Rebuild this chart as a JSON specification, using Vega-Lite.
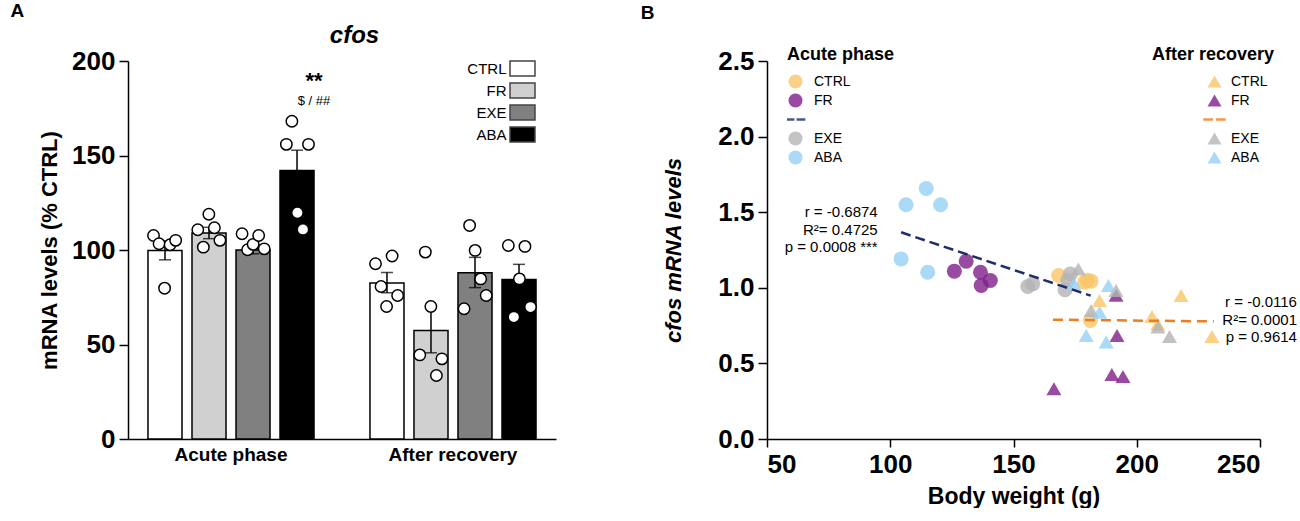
{
  "$schema": "https://vega.github.io/schema/vega-lite/v6.json",
  "background": "white",
  "padding": {"left": 10, "top": 2, "right": 0, "bottom": 0},
  "bounds": "flush",
  "spacing": 211,
  "config": {
    "font": "Liberation Sans",
    "view": {"stroke": null},
    "axis": {"domainColor": "black", "domainWidth": 1.5, "tickColor": "black", "tickWidth": 1.5, "labelColor": "black", "titleColor": "black", "grid": false, "labelFont": "Liberation Sans", "titleFont": "Liberation Sans"},
    "legend": {"labelFont": "Liberation Sans", "titleFont": "Liberation Sans", "labelColor": "black", "titleColor": "black"},
    "title": {"font": "Liberation Sans", "color": "black"}
  },
  "datasets": {
    "bars": [
      {"phase": "Acute phase", "group": "CTRL", "mean": 99.8, "lo": 94.8, "hi": 104.8},
      {"phase": "Acute phase", "group": "FR", "mean": 109, "lo": 106, "hi": 112},
      {"phase": "Acute phase", "group": "EXE", "mean": 100, "lo": 98, "hi": 102},
      {"phase": "Acute phase", "group": "ABA", "mean": 142, "lo": 131.2, "hi": 152.8},
      {"phase": "After recovery", "group": "CTRL", "mean": 82.6, "lo": 77.4, "hi": 88.1},
      {"phase": "After recovery", "group": "FR", "mean": 57.4, "lo": 45.6, "hi": 70.1},
      {"phase": "After recovery", "group": "EXE", "mean": 87.9, "lo": 80.1, "hi": 96.1},
      {"phase": "After recovery", "group": "ABA", "mean": 84.4, "lo": 76.4, "hi": 92.4}
    ],
    "pts": [
      {"phase": "Acute phase", "group": "CTRL", "gr": "CTRL-1", "value": 107.7},
      {"phase": "Acute phase", "group": "CTRL", "gr": "CTRL-2", "value": 103.3},
      {"phase": "Acute phase", "group": "CTRL", "gr": "CTRL-3", "value": 79.8},
      {"phase": "Acute phase", "group": "CTRL", "gr": "CTRL-4", "value": 102.8},
      {"phase": "Acute phase", "group": "CTRL", "gr": "CTRL-5", "value": 105.1},
      {"phase": "Acute phase", "group": "FR", "gr": "FR-1", "value": 110.7},
      {"phase": "Acute phase", "group": "FR", "gr": "FR-2", "value": 101.5},
      {"phase": "Acute phase", "group": "FR", "gr": "FR-3", "value": 118.9},
      {"phase": "Acute phase", "group": "FR", "gr": "FR-4", "value": 111.8},
      {"phase": "Acute phase", "group": "FR", "gr": "FR-5", "value": 105.1},
      {"phase": "Acute phase", "group": "EXE", "gr": "EXE-1", "value": 108.6},
      {"phase": "Acute phase", "group": "EXE", "gr": "EXE-2", "value": 100.1},
      {"phase": "Acute phase", "group": "EXE", "gr": "EXE-3", "value": 103.0},
      {"phase": "Acute phase", "group": "EXE", "gr": "EXE-4", "value": 107.7},
      {"phase": "Acute phase", "group": "EXE", "gr": "EXE-5", "value": 100.6},
      {"phase": "Acute phase", "group": "ABA", "gr": "ABA-1", "value": 155.9},
      {"phase": "Acute phase", "group": "ABA", "gr": "ABA-2", "value": 168.1},
      {"phase": "Acute phase", "group": "ABA", "gr": "ABA-3", "value": 119.7},
      {"phase": "Acute phase", "group": "ABA", "gr": "ABA-4", "value": 110.9},
      {"phase": "Acute phase", "group": "ABA", "gr": "ABA-5", "value": 155.9},
      {"phase": "After recovery", "group": "CTRL", "gr": "CTRL-1", "value": 92.7},
      {"phase": "After recovery", "group": "CTRL", "gr": "CTRL-2", "value": 80.7},
      {"phase": "After recovery", "group": "CTRL", "gr": "CTRL-3", "value": 70.1},
      {"phase": "After recovery", "group": "CTRL", "gr": "CTRL-4", "value": 96.8},
      {"phase": "After recovery", "group": "CTRL", "gr": "CTRL-5", "value": 75.9},
      {"phase": "After recovery", "group": "FR", "gr": "FR-1", "value": 44.5},
      {"phase": "After recovery", "group": "FR", "gr": "FR-2", "value": 98.9},
      {"phase": "After recovery", "group": "FR", "gr": "FR-3", "value": 70.1},
      {"phase": "After recovery", "group": "FR", "gr": "FR-4", "value": 33.6},
      {"phase": "After recovery", "group": "FR", "gr": "FR-5", "value": 42.4},
      {"phase": "After recovery", "group": "EXE", "gr": "EXE-1", "value": 68.9},
      {"phase": "After recovery", "group": "EXE", "gr": "EXE-2", "value": 113.0},
      {"phase": "After recovery", "group": "EXE", "gr": "EXE-3", "value": 99.8},
      {"phase": "After recovery", "group": "EXE", "gr": "EXE-4", "value": 84.7},
      {"phase": "After recovery", "group": "EXE", "gr": "EXE-5", "value": 75.9},
      {"phase": "After recovery", "group": "ABA", "gr": "ABA-1", "value": 102.4},
      {"phase": "After recovery", "group": "ABA", "gr": "ABA-2", "value": 64.5},
      {"phase": "After recovery", "group": "ABA", "gr": "ABA-3", "value": 84.7},
      {"phase": "After recovery", "group": "ABA", "gr": "ABA-4", "value": 101.9},
      {"phase": "After recovery", "group": "ABA", "gr": "ABA-5", "value": 69.8}
    ],
    "sig": [
      {"phase": "Acute phase", "group": "ABA", "ty": 189.5, "label": "**"},
      {"phase": "Acute phase", "group": "ABA", "ty": 179.0, "label": "$ / ##"}
    ],
    "scat": [
      {"phase": "Acute", "group": "CTRL", "bw": 168.3, "lvl": 1.081},
      {"phase": "Acute", "group": "CTRL", "bw": 180.0, "lvl": 1.05},
      {"phase": "Acute", "group": "CTRL", "bw": 178.8, "lvl": 1.037},
      {"phase": "Acute", "group": "CTRL", "bw": 181.5, "lvl": 1.044},
      {"phase": "Acute", "group": "CTRL", "bw": 181.2, "lvl": 0.784},
      {"phase": "Acute", "group": "FR", "bw": 126.0, "lvl": 1.110},
      {"phase": "Acute", "group": "FR", "bw": 130.8, "lvl": 1.176},
      {"phase": "Acute", "group": "FR", "bw": 136.6, "lvl": 1.103},
      {"phase": "Acute", "group": "FR", "bw": 136.9, "lvl": 1.015},
      {"phase": "Acute", "group": "FR", "bw": 140.6, "lvl": 1.048},
      {"phase": "Acute", "group": "EXE", "bw": 155.8, "lvl": 1.009},
      {"phase": "Acute", "group": "EXE", "bw": 157.8, "lvl": 1.026},
      {"phase": "Acute", "group": "EXE", "bw": 170.9, "lvl": 0.987},
      {"phase": "Acute", "group": "EXE", "bw": 173.1, "lvl": 1.092},
      {"phase": "Acute", "group": "EXE", "bw": 172.0, "lvl": 1.05},
      {"phase": "Acute", "group": "ABA", "bw": 114.6, "lvl": 1.657},
      {"phase": "Acute", "group": "ABA", "bw": 106.4, "lvl": 1.549},
      {"phase": "Acute", "group": "ABA", "bw": 120.4, "lvl": 1.549},
      {"phase": "Acute", "group": "ABA", "bw": 104.4, "lvl": 1.191},
      {"phase": "Acute", "group": "ABA", "bw": 115.2, "lvl": 1.103},
      {"phase": "After", "group": "CTRL", "bw": 184.9, "lvl": 0.916},
      {"phase": "After", "group": "CTRL", "bw": 218.0, "lvl": 0.949},
      {"phase": "After", "group": "CTRL", "bw": 206.2, "lvl": 0.810},
      {"phase": "After", "group": "CTRL", "bw": 230.5, "lvl": 0.678},
      {"phase": "After", "group": "CTRL", "bw": 208.5, "lvl": 0.76},
      {"phase": "After", "group": "FR", "bw": 191.6, "lvl": 0.95},
      {"phase": "After", "group": "FR", "bw": 192.0, "lvl": 0.685},
      {"phase": "After", "group": "FR", "bw": 189.9, "lvl": 0.427},
      {"phase": "After", "group": "FR", "bw": 194.4, "lvl": 0.414},
      {"phase": "After", "group": "FR", "bw": 166.4, "lvl": 0.333},
      {"phase": "After", "group": "EXE", "bw": 176.3, "lvl": 1.125},
      {"phase": "After", "group": "EXE", "bw": 191.6, "lvl": 0.982},
      {"phase": "After", "group": "EXE", "bw": 181.5, "lvl": 0.85},
      {"phase": "After", "group": "EXE", "bw": 208.6, "lvl": 0.740},
      {"phase": "After", "group": "EXE", "bw": 213.3, "lvl": 0.678},
      {"phase": "After", "group": "ABA", "bw": 174.5, "lvl": 1.026},
      {"phase": "After", "group": "ABA", "bw": 188.5, "lvl": 1.015},
      {"phase": "After", "group": "ABA", "bw": 184.9, "lvl": 0.839},
      {"phase": "After", "group": "ABA", "bw": 179.5, "lvl": 0.685},
      {"phase": "After", "group": "ABA", "bw": 187.6, "lvl": 0.641}
    ],
    "fits": [
      {"phase": "Acute", "bw": 104.4, "fit": 1.367},
      {"phase": "Acute", "bw": 181.3, "fit": 0.948},
      {"phase": "After", "bw": 166.0, "fit": 0.789},
      {"phase": "After", "bw": 231.3, "fit": 0.778}
    ],
    "ann": [
      {"bw": 94.9, "lvl": 1.503, "label": "r = -0.6874"},
      {"bw": 94.9, "lvl": 1.382, "label": "R²= 0.4725"},
      {"bw": 94.9, "lvl": 1.267, "label": "p = 0.0008 ***"},
      {"bw": 265.0, "lvl": 0.904, "label": "r = -0.0116"},
      {"bw": 265.0, "lvl": 0.788, "label": "R²= 0.0001"},
      {"bw": 265.0, "lvl": 0.673, "label": "p = 0.9614"}
    ]
  },
  "hconcat": [
    {
      "width": 428,
      "height": 378,
      "title": {"text": "A", "anchor": "start", "frame": "bounds", "dx": -28, "fontSize": 19, "fontWeight": "bold", "offset": 2},
      "resolve": {"scale": {"xOffset": "independent"}, "axis": {"x": "independent"}},
      "layer": [
        {
          "data": {"name": "bars"},
          "mark": {"type": "bar", "stroke": "black", "strokeWidth": 1.5},
          "encoding": {
            "x": {"field": "phase", "type": "nominal", "sort": ["Acute phase", "After recovery"],
              "scale": {"domain": ["Acute phase", "After recovery"], "paddingInner": 0.252, "paddingOuter": 0.09},
              "axis": {"title": null, "labelAngle": 0, "labelFontSize": 19, "labelFontWeight": "bold", "ticks": false, "labelPadding": 6}},
            "xOffset": {"field": "group", "type": "nominal", "scale": {"domain": ["CTRL", "FR", "EXE", "ABA"], "paddingInner": 0.227, "paddingOuter": 0}},
            "y": {"field": "mean", "type": "quantitative", "title": "mRNA levels (% CTRL)", "scale": {"domain": [0, 200], "nice": false},
              "axis": {"values": [0, 50, 100, 150, 200], "titleFontSize": 22, "titleFontWeight": "bold", "labelFontSize": 26, "labelFontWeight": "bold", "tickSize": 9, "labelPadding": 4, "titlePadding": 10}},
            "fill": {"field": "group", "type": "nominal", "scale": {"domain": ["CTRL", "FR", "EXE", "ABA"], "range": ["white", "#d0d0d0", "#808080", "black"]},
              "legend": {"orient": "none", "legendX": 386.5, "legendY": -0.5, "title": null, "symbolType": "M-1.724,-1.034H1.724V1.034H-1.724Z", "symbolSize": 210, "symbolStrokeColor": "#444", "symbolStrokeWidth": 1.5, "labelFontSize": 15, "labelAlign": "right", "labelOffset": -24, "rowPadding": 0, "padding": 0}}
          }
        },
        {
          "data": {"name": "bars"},
          "mark": {"type": "rule", "color": "black", "strokeWidth": 1.5},
          "encoding": {
            "x": {"field": "phase", "type": "nominal", "axis": null},
            "xOffset": {"field": "group", "type": "nominal", "scale": {"domain": ["CTRL", "FR", "EXE", "ABA"], "paddingInner": 0.227, "paddingOuter": 0}},
            "y": {"field": "lo", "type": "quantitative", "title": "mRNA levels (% CTRL)", "scale": {"domain": [0, 200], "nice": false}},
            "y2": {"field": "hi"}
          }
        },
        {
          "data": {"name": "bars"},
          "mark": {"type": "tick", "color": "black", "thickness": 1.5, "size": 12},
          "encoding": {
            "x": {"field": "phase", "type": "nominal", "axis": null},
            "xOffset": {"field": "group", "type": "nominal", "scale": {"domain": ["CTRL", "FR", "EXE", "ABA"], "paddingInner": 0.227, "paddingOuter": 0}},
            "y": {"field": "hi", "type": "quantitative", "title": "mRNA levels (% CTRL)", "scale": {"domain": [0, 200], "nice": false}}
          }
        },
        {
          "data": {"name": "bars"},
          "mark": {"type": "tick", "color": "black", "thickness": 1.5, "size": 12},
          "encoding": {
            "x": {"field": "phase", "type": "nominal", "axis": null},
            "xOffset": {"field": "group", "type": "nominal", "scale": {"domain": ["CTRL", "FR", "EXE", "ABA"], "paddingInner": 0.227, "paddingOuter": 0}},
            "y": {"field": "lo", "type": "quantitative", "title": "mRNA levels (% CTRL)", "scale": {"domain": [0, 200], "nice": false}}
          }
        },
        {
          "data": {"name": "pts"},
          "mark": {"type": "point", "shape": "circle", "filled": true, "color": "white", "stroke": "black", "strokeWidth": 1.5, "size": 130, "opacity": 1},
          "encoding": {
            "x": {"field": "phase", "type": "nominal", "axis": null},
            "xOffset": {"field": "gr", "type": "nominal", "scale": {"type": "point", "padding": 1.09, "domain": ["CTRL-1", "CTRL-2", "CTRL-3", "CTRL-4", "CTRL-5", "CTRL-s1", "CTRL-s2", "CTRL-s3", "FR-1", "FR-2", "FR-3", "FR-4", "FR-5", "FR-s1", "FR-s2", "FR-s3", "EXE-1", "EXE-2", "EXE-3", "EXE-4", "EXE-5", "EXE-s1", "EXE-s2", "EXE-s3", "ABA-1", "ABA-2", "ABA-3", "ABA-4", "ABA-5"]}},
            "y": {"field": "value", "type": "quantitative", "title": "mRNA levels (% CTRL)", "scale": {"domain": [0, 200], "nice": false}}
          }
        },
        {
          "data": {"name": "sig"},
          "transform": [{"filter": "datum.label === '**'"}],
          "mark": {"type": "text", "fontSize": 22, "fontWeight": "bold", "baseline": "middle", "color": "black"},
          "encoding": {
            "x": {"field": "phase", "type": "nominal",
              "axis": {"orient": "top", "title": "cfos", "titleFontSize": 24, "titleFontStyle": "italic", "titleFontWeight": "bold", "labels": false, "ticks": false, "domain": false, "titlePadding": 14, "titleX": 226}},
            "xOffset": {"field": "group", "type": "nominal", "scale": {"domain": ["CTRL", "FR", "EXE", "ABA"], "paddingInner": 0.227, "paddingOuter": 0}},
            "y": {"field": "ty", "type": "quantitative", "title": "mRNA levels (% CTRL)", "scale": {"domain": [0, 200], "nice": false}},
            "text": {"field": "label"}
          }
        },
        {
          "data": {"name": "sig"},
          "transform": [{"filter": "datum.label !== '**'"}],
          "mark": {"type": "text", "fontSize": 13, "baseline": "middle", "color": "black"},
          "encoding": {
            "x": {"field": "phase", "type": "nominal", "axis": null},
            "xOffset": {"field": "group", "type": "nominal", "scale": {"domain": ["CTRL", "FR", "EXE", "ABA"], "paddingInner": 0.227, "paddingOuter": 0}},
            "y": {"field": "ty", "type": "quantitative", "title": "mRNA levels (% CTRL)", "scale": {"domain": [0, 200], "nice": false}},
            "text": {"field": "label"}
          }
        }
      ]
    },
    {
      "width": 493,
      "height": 378,
      "title": {"text": "B", "anchor": "start", "frame": "bounds", "dx": -22, "fontSize": 19, "fontWeight": "bold", "offset": 23},
      "resolve": {"scale": {"color": "independent", "shape": "independent", "stroke": "independent"}},
      "layer": [
        {
          "data": {"name": "scat"},
          "transform": [{"filter": "datum.phase === 'Acute'"}],
          "mark": {"type": "point", "filled": true, "size": 225, "opacity": 0.8, "strokeWidth": 2.5},
          "encoding": {
            "x": {"field": "bw", "type": "quantitative", "title": "Body weight (g)", "scale": {"domain": [50, 250], "nice": false},
              "axis": {"values": [50, 100, 150, 200, 250], "titleFontSize": 23, "titleFontWeight": "bold", "labelFontSize": 26, "labelFontWeight": "bold", "tickSize": 8, "labelPadding": 4, "titlePadding": 8}},
            "y": {"field": "lvl", "type": "quantitative", "title": "cfos mRNA levels", "scale": {"domain": [0, 2.5], "nice": false},
              "axis": {"values": [0, 0.5, 1, 1.5, 2, 2.5], "format": ".1f", "titleFontSize": 22, "titleFontWeight": "bold", "titleFontStyle": "italic", "labelFontSize": 26, "labelFontWeight": "bold", "tickSize": 9, "labelPadding": 4, "titlePadding": 32}},
            "color": {"field": "group", "type": "nominal",
              "scale": {"domain": ["CTRL", "FR", "fit", "EXE", "ABA"], "range": ["#f9c66a", "#7f1f8a", "#1f2d6b", "#b4b4b4", "#95d1f5"]},
              "legend": {"orient": "none", "legendX": 20, "legendY": -15, "title": "Acute phase", "titleFontSize": 18, "titleFontWeight": "bold", "titlePadding": 8,
                "symbolSize": 196, "symbolStrokeWidth": 2.5, "labelFontSize": 14, "labelOffset": 10, "clipHeight": 19, "rowPadding": 0, "padding": 0,
                "labelExpr": "datum.value === 'fit' ? '' : datum.label"}},
            "shape": {"field": "group", "type": "nominal",
              "scale": {"domain": ["CTRL", "FR", "fit", "EXE", "ABA"], "range": ["circle", "circle", "M-1.4,0H-0.15M0.15,0H1.4", "circle", "circle"]}},
            "stroke": {"field": "group", "type": "nominal",
              "scale": {"domain": ["CTRL", "FR", "fit", "EXE", "ABA"], "range": ["transparent", "transparent", "#1f2d6b", "transparent", "transparent"]}}
          }
        },
        {
          "data": {"name": "scat"},
          "transform": [{"filter": "datum.phase === 'After'"}],
          "mark": {"type": "point", "filled": true, "size": 225, "opacity": 0.8, "strokeWidth": 2.5},
          "encoding": {
            "x": {"field": "bw", "type": "quantitative", "title": "Body weight (g)", "scale": {"domain": [50, 250], "nice": false}},
            "y": {"field": "lvl", "type": "quantitative", "title": "cfos mRNA levels", "scale": {"domain": [0, 2.5], "nice": false}},
            "color": {"field": "group", "type": "nominal",
              "scale": {"domain": ["CTRL", "FR", "fit", "EXE", "ABA"], "range": ["#f9c66a", "#7f1f8a", "#ee7d1f", "#b4b4b4", "#95d1f5"]},
              "legend": {"orient": "none", "legendX": 385, "legendY": -15, "title": "After recovery", "titleFontSize": 18, "titleFontWeight": "bold", "titlePadding": 8,
                "symbolSize": 196, "symbolStrokeWidth": 2.5, "symbolOffset": 54, "labelFontSize": 14, "labelOffset": 8, "clipHeight": 19, "rowPadding": 0, "padding": 0,
                "labelExpr": "datum.value === 'fit' ? '' : datum.label"}},
            "shape": {"field": "group", "type": "nominal",
              "scale": {"domain": ["CTRL", "FR", "fit", "EXE", "ABA"], "range": ["triangle-up", "triangle-up", "M-1.6,0H-0.2M0.2,0H1.6", "triangle-up", "triangle-up"]}},
            "stroke": {"field": "group", "type": "nominal",
              "scale": {"domain": ["CTRL", "FR", "fit", "EXE", "ABA"], "range": ["transparent", "transparent", "#ee7d1f", "transparent", "transparent"]}}
          }
        },
        {
          "data": {"name": "fits"},
          "transform": [{"filter": "datum.phase === 'Acute'"}],
          "mark": {"type": "line", "color": "#1f2d6b", "strokeWidth": 2.5, "strokeDash": [10, 5]},
          "encoding": {
            "x": {"field": "bw", "type": "quantitative", "title": "Body weight (g)", "scale": {"domain": [50, 250], "nice": false}},
            "y": {"field": "fit", "type": "quantitative", "title": "cfos mRNA levels", "scale": {"domain": [0, 2.5], "nice": false}}
          }
        },
        {
          "data": {"name": "fits"},
          "transform": [{"filter": "datum.phase === 'After'"}],
          "mark": {"type": "line", "color": "#ee7d1f", "strokeWidth": 2.5, "strokeDash": [10, 6]},
          "encoding": {
            "x": {"field": "bw", "type": "quantitative", "title": "Body weight (g)", "scale": {"domain": [50, 250], "nice": false}},
            "y": {"field": "fit", "type": "quantitative", "title": "cfos mRNA levels", "scale": {"domain": [0, 2.5], "nice": false}}
          }
        },
        {
          "data": {"name": "ann"},
          "mark": {"type": "text", "align": "right", "baseline": "middle", "fontSize": 15, "color": "black"},
          "encoding": {
            "x": {"field": "bw", "type": "quantitative", "title": "Body weight (g)", "scale": {"domain": [50, 250], "nice": false}},
            "y": {"field": "lvl", "type": "quantitative", "title": "cfos mRNA levels", "scale": {"domain": [0, 2.5], "nice": false}},
            "text": {"field": "label"}
          }
        }
      ]
    }
  ]
}
